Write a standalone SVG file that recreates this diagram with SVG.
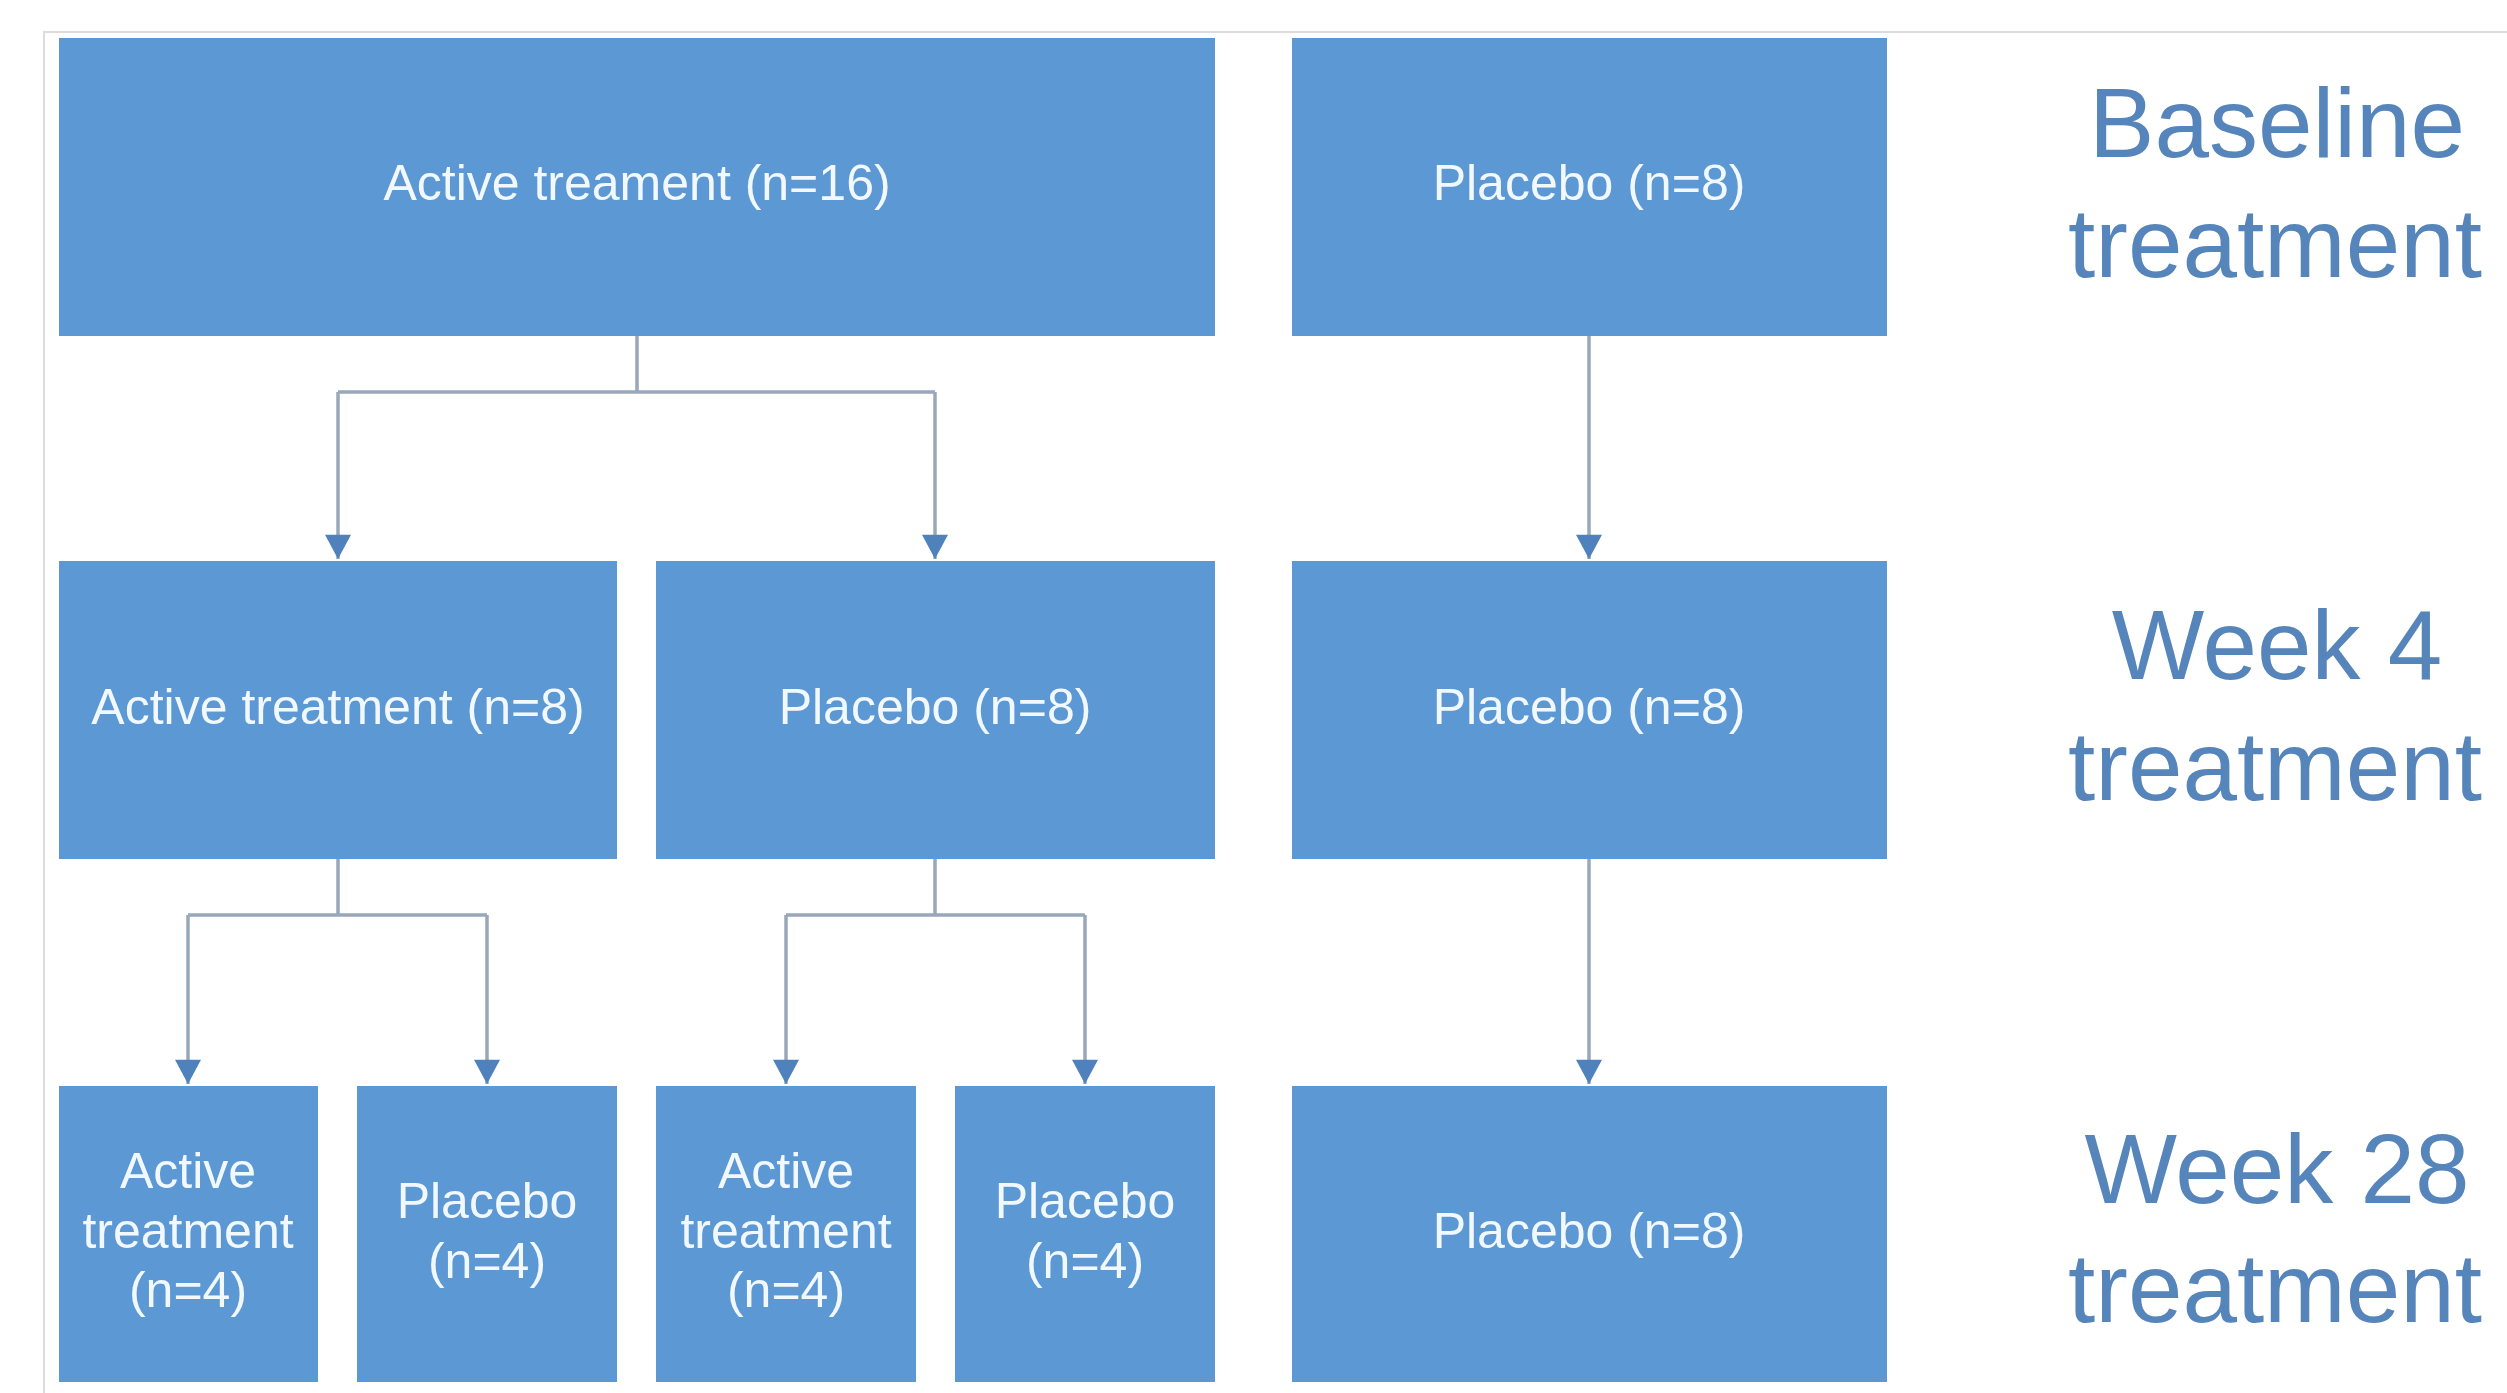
<svg xmlns="http://www.w3.org/2000/svg" width="2507" height="1393" viewBox="0 0 2507 1393">
<style>
.box{fill:#5b98d4;}
.bt{font-family:"Liberation Sans",Arial,sans-serif;font-size:50px;fill:#f2f8ff;text-anchor:middle;}
.lab{font-family:"Liberation Sans",Arial,sans-serif;font-size:98px;fill:#5585bb;text-anchor:middle;}
.con{fill:none;stroke:#98a8ba;stroke-width:3.5;}
</style>
<defs>
<marker id="arr" markerUnits="userSpaceOnUse" markerWidth="28" markerHeight="26" refX="14" refY="25" orient="auto" viewBox="0 0 28 26">
<path d="M0,0 L28,0 L14,26 Z" fill="#4f82bd" transform="rotate(-90 14 13)"/>
</marker>
<marker id="ah" markerUnits="userSpaceOnUse" markerWidth="28" markerHeight="26" refX="26" refY="14" orient="auto" viewBox="0 0 26 28">
<path d="M0,0 L26,14 L0,28 Z" fill="#4f82bd"/>
</marker>
</defs>
<rect width="2507" height="1393" fill="#ffffff"/>
<g id="frame" fill="none" stroke="#dcdcdc" stroke-width="2">
<path d="M44,1393 L44,32 L2507,32"/>
</g>
<g id="connectors">
<path class="con" d="M637,336 L637,392 M338,392 L935,392"/>
<path class="con" d="M338,392 L338,559" marker-end="url(#ah)"/>
<path class="con" d="M935,392 L935,559" marker-end="url(#ah)"/>
<path class="con" d="M1589,336 L1589,559" marker-end="url(#ah)"/>
<path class="con" d="M338,859 L338,915 M188,915 L487,915"/>
<path class="con" d="M188,915 L188,1084" marker-end="url(#ah)"/>
<path class="con" d="M487,915 L487,1084" marker-end="url(#ah)"/>
<path class="con" d="M935,859 L935,915 M786,915 L1085,915"/>
<path class="con" d="M786,915 L786,1084" marker-end="url(#ah)"/>
<path class="con" d="M1085,915 L1085,1084" marker-end="url(#ah)"/>
<path class="con" d="M1589,859 L1589,1084" marker-end="url(#ah)"/>
</g>
<g id="n_active16"><rect class="box" x="59" y="38" width="1156" height="298"/><text class="bt" x="637" y="200">Active treament (n=16)</text></g>
<g id="n_placebo_base"><rect class="box" x="1292" y="38" width="595" height="298"/><text class="bt" x="1589" y="200">Placebo (n=8)</text></g>
<g id="n_active8"><rect class="box" x="59" y="561" width="558" height="298"/><text class="bt" x="338" y="724">Active treatment  (n=8)</text></g>
<g id="n_placebo8a"><rect class="box" x="656" y="561" width="559" height="298"/><text class="bt" x="935" y="724">Placebo (n=8)</text></g>
<g id="n_placebo_w4"><rect class="box" x="1292" y="561" width="595" height="298"/><text class="bt" x="1589" y="724">Placebo (n=8)</text></g>
<g id="n_a4a"><rect class="box" x="59" y="1086" width="259" height="296"/><text class="bt" x="188" y="1188">Active</text><text class="bt" x="188" y="1248">treatment</text><text class="bt" x="188" y="1307">(n=4)</text></g>
<g id="n_p4a"><rect class="box" x="357" y="1086" width="260" height="296"/><text class="bt" x="487" y="1218">Placebo</text><text class="bt" x="487" y="1278">(n=4)</text></g>
<g id="n_a4b"><rect class="box" x="656" y="1086" width="260" height="296"/><text class="bt" x="786" y="1188">Active</text><text class="bt" x="786" y="1248">treatment</text><text class="bt" x="786" y="1307">(n=4)</text></g>
<g id="n_p4b"><rect class="box" x="955" y="1086" width="260" height="296"/><text class="bt" x="1085" y="1218">Placebo</text><text class="bt" x="1085" y="1278">(n=4)</text></g>
<g id="n_placebo_w28"><rect class="box" x="1292" y="1086" width="595" height="296"/><text class="bt" x="1589" y="1248">Placebo (n=8)</text></g>
<g id="labels">
<text class="lab" x="2277" y="157">Baseline</text><text class="lab" x="2275" y="277">treatment</text>
<text class="lab" x="2277" y="679">Week 4</text><text class="lab" x="2275" y="800">treatment</text>
<text class="lab" x="2277" y="1203">Week 28</text><text class="lab" x="2275" y="1322">treatment</text>
</g>
</svg>
